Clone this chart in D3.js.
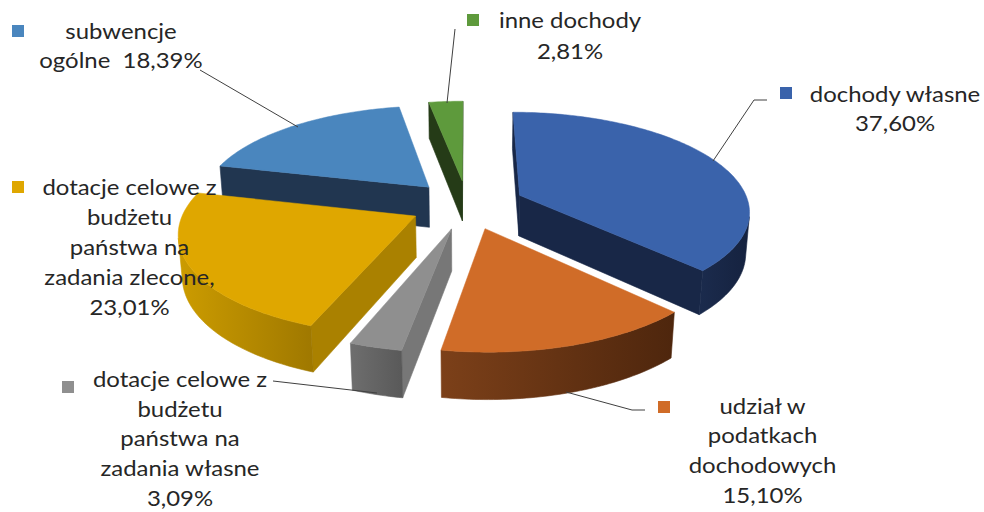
<!DOCTYPE html>
<html>
<head>
<meta charset="utf-8">
<script src="https://cdn.jsdelivr.net/npm/d3@7"></script>
<style>
  body { margin: 0; background: #fff; }
  text { font-family: Lato, "Noto Sans", sans-serif; font-size: 21px; fill: #262626; white-space: pre; }
</style>
</head>
<body>
<div class="canva"></div>
<script>
const width = 984
const height = 512

// data (clockwise from 12 o'clock)
const categories = ["dochody własne", "udział w podatkach dochodowych",
  "dotacje celowe z budżetu państwa na zadania własne",
  "dotacje celowe z budżetu państwa na zadania zlecone,",
  "subwencje ogólne", "inne dochody"]
const values = [37.60, 15.10, 3.09, 23.01, 18.39, 2.81]
const valueLabels = ["37,60%", "15,10%", "3,09%", "23,01%", "18,39%", "2,81%"]
const labelLines = [
  ["dochody własne"],
  ["udział w", "podatkach", "dochodowych"],
  ["dotacje celowe z", "budżetu", "państwa na", "zadania własne"],
  ["dotacje celowe z", "budżetu", "państwa na", "zadania zlecone,"],
  ["subwencje", "ogólne"],
  ["inne dochody"]
]

// colours
const topColors = ["#3a63ab", "#d06c28", "#8f8f8f", "#dfa700", "#4a86be", "#5e9a3c"]
const cutColors = ["#182747", "#5a2d10", "#777777", "#aa8100", "#213650", "#253b17"]
const wallColors = [["#1b2b4d", "#15223f"], ["#7c4019", "#4e260d"], ["#6e6e6e", "#595959"],
  ["#cc9c00", "#9f7800"], ["#21364f", "#1c2e44"], ["#2b451b", "#253b17"]]

// label layout: centre x, first baseline, line step, key square, leader line
const labelLayout = [
  {cx: 895, y: 101.5, step: 29.5, key: [780, 87], leader: [[767, 100], [754, 100], [713, 161]]},
  {cx: 762.5, y: 413.5, step: 29.8, key: [658, 401], leader: [[645, 410], [632, 410], [566, 392]]},
  {cx: 180, y: 387, step: 29.7, key: [62, 381], leader: [[273, 381], [377, 393]]},
  {cx: 129.5, y: 195, step: 30, key: [12, 181], leader: null},
  {cx: 121, y: 39, step: 29.3, key: [12, 25], leader: [[200, 70], [298, 127]], inline: true},
  {cx: 570, y: 28, step: 31, key: [467, 14], leader: [[455, 29], [447, 103]]}
]
const textStretch = 1.14

const svg = d3.select(".canva").append("svg").attr("width", width).attr("height", height)
const defs = svg.append("defs")

// 3d setup
const tilt = 25.2 * Math.PI / 180
const persp = 0.161
const scale = 229.5
const cx = 467.2, cy = 204.5
const explode = 0.25
const depth = 0.2
const cam = [0, Math.sin(tilt) / persp, -Math.cos(tilt) / persp]

function project(p) {
  const zc = 1 + persp * (p[2] * Math.cos(tilt) - p[1] * Math.sin(tilt))
  return [cx + scale * p[0] / zc, cy - scale * (p[2] * Math.sin(tilt) + p[1] * Math.cos(tilt)) / zc]
}
const line = d3.line()
function poly(pts) { return line(pts.map(project)) + "Z" }
function facing(p, n) {
  return (p[0] - cam[0]) * n[0] + (p[1] - cam[1]) * n[1] + (p[2] - cam[2]) * n[2] < 0
}

const arcs = d3.pie().sort(null).value(d => d).startAngle(0).endAngle(2 * Math.PI)(values)

const slices = arcs.map((a, i) => {
  const mid = (a.startAngle + a.endAngle) / 2
  const ox = explode * Math.sin(mid), oz = explode * Math.cos(mid)
  const dist = Math.hypot(ox - cam[0], cam[1], oz - cam[2])
  return {a, i, ox, oz, dist}
}).sort((p, q) => q.dist - p.dist)

const pieG = svg.append("g").attr("class", "pie")

slices.forEach(s => {
  const i = s.i, a0 = s.a.startAngle, a1 = s.a.endAngle
  const rim = (t, y) => [s.ox + Math.sin(t), y, s.oz + Math.cos(t)]
  const ctr = y => [s.ox, y, s.oz]
  const g = pieG.append("g")

  // cut faces
  const cuts = [[a0, [-Math.cos(a0), 0, Math.sin(a0)]], [a1, [Math.cos(a1), 0, -Math.sin(a1)]]]
  cuts.forEach(([t, n]) => {
    if (!facing(ctr(0), n)) return
    g.append("path")
      .attr("d", poly([ctr(0), rim(t, 0), rim(t, -depth), ctr(-depth)]))
      .attr("fill", cutColors[i]).attr("stroke", cutColors[i]).attr("stroke-width", 0.6)
  })

  // outer wall, only the parts facing the camera
  const steps = Math.max(2, Math.ceil((a1 - a0) / (Math.PI / 180)))
  const angles = d3.range(steps + 1).map(j => a0 + (a1 - a0) * j / steps)
  const runs = []
  let run = []
  for (let j = 0; j < steps; j++) {
    const t = (angles[j] + angles[j + 1]) / 2
    if (facing(rim(t, 0), [Math.sin(t), 0, Math.cos(t)])) {
      if (!run.length) run.push(angles[j])
      run.push(angles[j + 1])
    } else if (run.length) { runs.push(run); run = [] }
  }
  if (run.length) runs.push(run)

  runs.forEach((r, k) => {
    const pts = r.map(t => rim(t, 0)).concat(r.slice().reverse().map(t => rim(t, -depth)))
    const xs = pts.map(p => project(p)[0])
    const id = `wall${i}_${k}`
    const grad = defs.append("linearGradient").attr("id", id).attr("gradientUnits", "userSpaceOnUse")
      .attr("x1", d3.min(xs)).attr("x2", d3.max(xs)).attr("y1", 0).attr("y2", 0)
    grad.append("stop").attr("offset", 0).attr("stop-color", wallColors[i][0])
    grad.append("stop").attr("offset", 1).attr("stop-color", wallColors[i][1])
    g.append("path").attr("d", poly(pts))
      .attr("fill", `url(#${id})`).attr("stroke", `url(#${id})`).attr("stroke-width", 0.6)
  })

  // top
  g.append("path")
    .attr("d", poly([ctr(0)].concat(angles.map(t => rim(t, 0)))))
    .attr("fill", topColors[i]).attr("stroke", topColors[i]).attr("stroke-width", 0.5)
})

// leader lines
svg.append("g").selectAll("path")
  .data(labelLayout.filter(d => d.leader))
  .enter().append("path")
  .attr("d", d => d3.line()(d.leader))
  .attr("fill", "none").attr("stroke", "#404040").attr("stroke-width", 1)

// labels
const labels = svg.append("g").selectAll("g")
  .data(labelLayout.map((d, i) => {
    let lines = labelLines[i].slice()
    if (d.inline) lines[lines.length - 1] += "  " + valueLabels[i]
    else lines.push(valueLabels[i])
    return {...d, lines, color: topColors[i]}
  }))
  .enter().append("g")

labels.append("rect")
  .attr("x", d => d.key[0]).attr("y", d => d.key[1])
  .attr("width", 12).attr("height", 12)
  .attr("fill", d => d.color)

labels.append("g")
  .attr("transform", d => `translate(${d.cx},${d.y}) scale(${textStretch},1)`)
  .selectAll("text")
  .data(d => d.lines.map((t, j) => ({t, dy: j * d.step})))
  .enter().append("text")
  .attr("text-anchor", "middle")
  .attr("y", d => d.dy)
  .text(d => d.t)
</script>
</body>
</html>
